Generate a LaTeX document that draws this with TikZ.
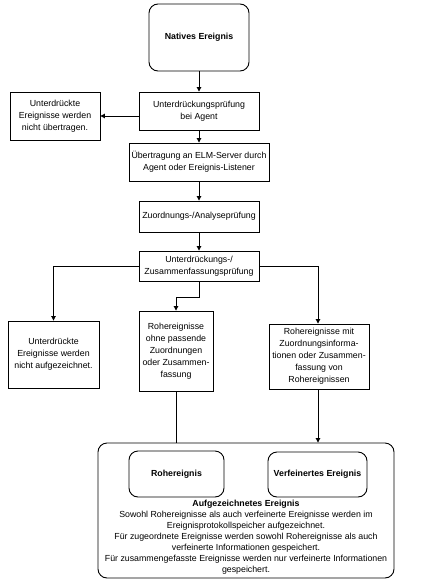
\documentclass[tikz,border=0pt]{standalone}
\usepackage{fontspec}
\setmainfont{Liberation Sans}
\usetikzlibrary{arrows.meta}
\begin{document}
\begin{tikzpicture}[x=1pt,y=-1pt,
  box/.style={draw,line width=0.9pt,align=center,inner sep=1pt,font=\fontsize{8.8}{12}\selectfont},
  rbox/.style={box,rounded corners=9pt},
  arr/.style={line width=0.9pt,-{Triangle[length=4.5pt,width=4.5pt]}},
  ln/.style={line width=0.9pt}]
\useasboundingbox (0,0) rectangle (423,584);
\node[rbox,minimum width=100pt,minimum height=67pt,font=\fontsize{8.8}{10}\selectfont\bfseries] (nat) at (199,37.5) {Natives Ereignis};
\node[box,minimum width=120pt,minimum height=38pt] (sup) at (199,111) {Unterdrückungsprüfung\\bei Agent};
\node[box,minimum width=90pt,minimum height=48pt] (nsup) at (55,116) {Unterdrückte\\Ereignisse werden\\nicht übertragen.};
\node[box,minimum width=140pt,minimum height=38pt] (tx) at (199,162) {Übertragung an ELM-Server durch\\Agent oder Ereignis-Listener};
\node[box,minimum width=120pt,minimum height=31pt] (map) at (199,216.5) {Zuordnungs-/Analyseprüfung};
\node[box,minimum width=120pt,minimum height=30pt] (agg) at (199,266) {Unterdrückungs-/\\Zusammenfassungsprüfung};
\node[box,minimum width=91pt,minimum height=67pt] (nrec) at (53.5,354.5) {Unterdrückte\\Ereignisse werden\\nicht aufgezeichnet.};
\node[box,minimum width=74pt,minimum height=80pt] (raw) at (176,351) {Rohereignisse\\ohne passende\\Zuordnungen\\oder Zusammen-\\fassung};
\node[box,minimum width=100pt,minimum height=65pt] (ref) at (319,356.5) {Rohereignisse mit\\Zuordnungsinforma-\\tionen oder Zusammen-\\fassung von\\Rohereignissen};
\node[rbox,minimum width=296pt,minimum height=135pt] (big) at (246,510.5) {};
\node[rbox,minimum width=95pt,minimum height=46pt,font=\fontsize{8.8}{10}\selectfont\bfseries] (roh) at (176.5,474) {Rohereignis};
\node[rbox,minimum width=99pt,minimum height=45pt,font=\fontsize{8.8}{10}\selectfont\bfseries] (verf) at (317.5,474.5) {Verfeinertes Ereignis};
\node[align=center,inner sep=0pt,font=\fontsize{8.8}{11}\selectfont] (txt) at (246,537.5) {\textbf{Aufgezeichnetes Ereignis}\\Sowohl Rohereignisse als auch verfeinerte Ereignisse werden im\\Ereignisprotokollspeicher aufgezeichnet.\\Für zugeordnete Ereignisse werden sowohl Rohereignisse als auch\\verfeinerte Informationen gespeichert.\\Für zusammengefasste Ereignisse werden nur verfeinerte Informationen\\gespeichert.};
\draw[arr] (nat) -- (sup);
\draw[arr] (sup.west |- nsup) -- (nsup.east);
\draw[arr] (sup) -- (tx);
\draw[arr] (tx) -- (map);
\draw[arr] (map) -- (agg);
\draw[arr] (agg.west) -| (nrec.north);
\draw[arr] (agg.south) -- ++(0,16) -| (raw.north);
\draw[arr] (agg.east) -| (ref.north -| 318,0);
\draw[ln] (raw.south) -- (raw.south |- big.north);
\draw[arr] (ref.south -| 318,0) -- (big.north -| 318,0);
\end{tikzpicture}
\end{document}
